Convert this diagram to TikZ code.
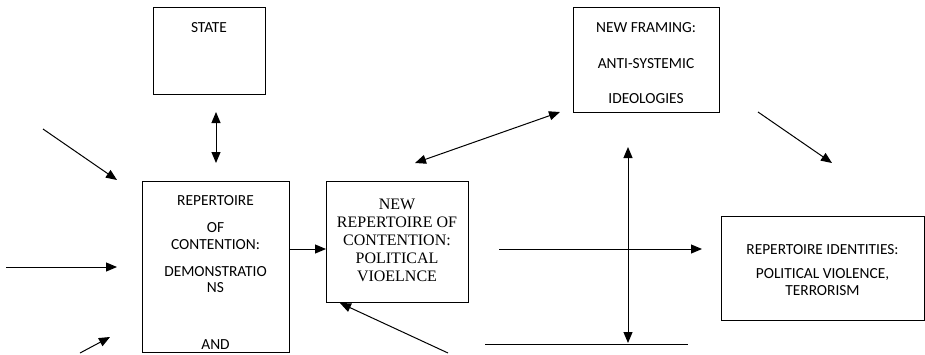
\documentclass[tikz,border=0pt]{standalone}
\usepackage{fontspec}
\setmainfont{Carlito}
\newfontfamily\timesfont{Liberation Serif}
\usetikzlibrary{arrows.meta}

\begin{document}
\begin{tikzpicture}[x=1pt, y=-1pt, >={Triangle[length=11pt, width=9pt]}, line width=1pt,
	box/.style={draw, rectangle, anchor=north west, inner sep=0pt},
	txt/.style={anchor=north, align=center, inner sep=0pt, font=\fontsize{15.4}{16.5}\selectfont}]
	\useasboundingbox (0,0) rectangle (925,354);

	\node [box, minimum width=112pt, minimum height=87pt] (state) at (153,7) {};
	\node [box, minimum width=147pt, minimum height=171pt] (rep) at (142,181) {};
	\node [box, minimum width=142pt, minimum height=121pt] (newrep) at (326,181) {};
	\node [box, minimum width=146pt, minimum height=105pt] (framing) at (573,7) {};
	\node [box, minimum width=203pt, minimum height=104pt] (ident) at (721,216) {};

	\node [txt] (statetxt) at (209,22) {STATE};
	\node [txt] (reptxt) at (215.5,195) {REPERTOIRE\\[10.5pt] OF\\ CONTENTION:\\[10.5pt] DEMONSTRATIO\\ NS\\[40pt] AND};
	\node [txt, font=\timesfont\fontsize{16}{18}\selectfont] (newreptxt) at (397,199)
	{NEW\\ REPERTOIRE OF\\ CONTENTION:\\ POLITICAL\\ VIOELNCE};
	\node [txt] (framingtxt) at (646,22) {NEW FRAMING:\\[19.5pt] ANTI-SYSTEMIC\\[19pt] IDEOLOGIES};
	\node [txt] (identtxt) at (822.5,244) {REPERTOIRE IDENTITIES:\\[7.5pt] POLITICAL VIOLENCE,\\ TERRORISM};

	\coordinate (in1) at (43,129);
	\coordinate (in1end) at (117,180);
	\coordinate (in2) at (6,267);
	\coordinate (in2end) at (117,267);
	\coordinate (in3) at (80,353);
	\coordinate (in3end) at (110,337);
	\coordinate (statelow) at (216,112);
	\coordinate (rephigh) at (216,163);
	\coordinate (newrephigh) at (415,163);
	\coordinate (framinglow) at (560,112);
	\coordinate (feed) at (448,353);
	\coordinate (basel) at (485,344);
	\coordinate (baser) at (688,344);
	\coordinate (flow) at (499,249);
	\coordinate (flowend) at (702,249);
	\coordinate (vtop) at (628,147);
	\coordinate (vbot) at (628,343);
	\coordinate (out) at (758,112);
	\coordinate (outend) at (832,163);

	\draw[->] (in1) -- (in1end);
	\draw[->] (in2) -- (in2end);
	\draw[->] (in3) -- (in3end);
	\draw[<->] (statelow) -- (rephigh);
	\draw[->] (rep.east |- flow) -- (newrep.west |- flow);
	\draw[<->] (newrephigh) -- (framinglow);
	\draw[->] (feed) -- (newrep.south west -| 340,0);
	\draw (basel) -- (baser);
	\draw[->] (flow) -- (flowend);
	\draw[<->] (vtop) -- (vbot);
	\draw[->] (out) -- (outend);
\end{tikzpicture}
\end{document}
